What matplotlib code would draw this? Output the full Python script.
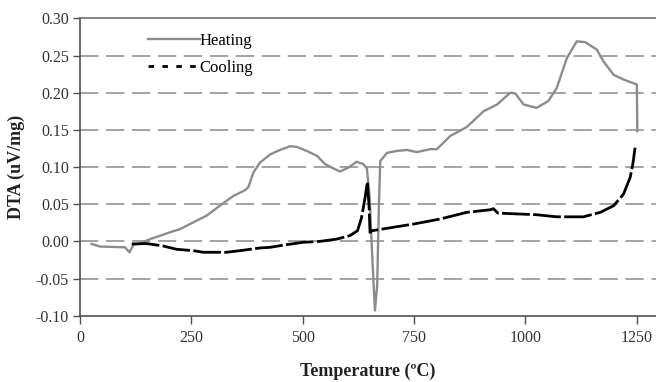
import matplotlib
matplotlib.use("Agg")
import matplotlib.pyplot as plt
from matplotlib.lines import Line2D

# heating run (grey)
heat_t = [26, 45, 101, 111, 120, 135, 157, 180, 206, 225, 254, 284, 314, 344, 371, 378,
          389, 404, 427, 449, 472, 487, 509, 532, 550, 569, 584, 602, 621, 636, 644, 650,
          656, 662, 667, 671, 674, 689, 711, 734, 756, 786, 801, 831, 868, 906, 936, 966,
          977, 996, 1025, 1051, 1070, 1093, 1115, 1134, 1160, 1175, 1198, 1220, 1250, 1251]
heat_v = [-0.0035, -0.007, -0.008, -0.0147, -0.0045, -0.003, 0.003, 0.0076, 0.013, 0.0166,
          0.0255, 0.0345, 0.048, 0.061, 0.069, 0.073, 0.0925, 0.106, 0.117, 0.123, 0.128,
          0.127, 0.1216, 0.115, 0.104, 0.098, 0.094, 0.099, 0.107, 0.104, 0.098, 0.06,
          -0.02, -0.093, -0.06, 0.05, 0.108, 0.119, 0.1216, 0.123, 0.120, 0.124, 0.124,
          0.1417, 0.1537, 0.175, 0.184, 0.2, 0.199, 0.184, 0.1796, 0.1886, 0.206, 0.2466,
          0.269, 0.268, 0.258, 0.242, 0.224, 0.2177, 0.211, 0.148]

# cooling run (black)
cool_t = [116, 150, 187, 217, 254, 277, 329, 366, 404, 427, 464, 501, 539, 576, 606, 623,
          632, 640, 645, 649, 651, 655, 749, 808, 868, 921, 928, 938, 1025, 1070, 1130,
          1168, 1198, 1220, 1235, 1241, 1246]
cool_v = [-0.0035, -0.003, -0.0063, -0.0107, -0.0125, -0.0147, -0.0147, -0.012, -0.0089,
          -0.008, -0.0044, -0.0013, 0.0, 0.003, 0.0077, 0.0143, 0.032, 0.059, 0.08, 0.0456,
          0.012, 0.0143, 0.0233, 0.030, 0.039, 0.0425, 0.044, 0.038, 0.0358, 0.033, 0.033,
          0.039, 0.048, 0.0635, 0.086, 0.104, 0.126]

x_ticks = [0, 250, 500, 750, 1000, 1250]
y_ticks = [-0.10, -0.05, 0.00, 0.05, 0.10, 0.15, 0.20, 0.25, 0.30]

plt.rcParams['font.family'] = ['Liberation Serif', 'DejaVu Serif']

fig = plt.figure(figsize=(6.56, 3.82), dpi=100)
ax = fig.add_axes([0.122, 0.1736, 0.878, 0.7784])

ax.plot(heat_t, heat_v, color='#8c8c8c', lw=1.7, label='Heating', zorder=3)
ax.plot(cool_t, cool_v, color='black', lw=2, linestyle=(0, (10, 1.2)), zorder=4)

ax.set_xlim(0, 1293)
ax.set_ylim(-0.10, 0.30)
ax.set_xticks(x_ticks)
ax.set_yticks(y_ticks)
ax.set_yticklabels(['%.2f' % v for v in y_ticks])

for v in y_ticks[1:-1]:
    ax.axhline(v, color='#8a8a8a', lw=1.1, dashes=(12, 5), zorder=1)

ax.spines['right'].set_visible(False)
ax.spines['top'].set_color('#707070')
ax.spines['left'].set_color('#505050')
ax.spines['bottom'].set_color('#505050')
for s in ['top', 'left', 'bottom']:
    ax.spines[s].set_linewidth(1.2)

ax.tick_params(axis='y', direction='out', length=5, width=1, colors='#505050',
               labelcolor='#333333', labelsize=11.5, pad=3)
ax.tick_params(axis='x', direction='out', length=5.5, width=1, colors='#505050',
               labelcolor='#333333', labelsize=11.5, pad=5)

ax.set_xlabel('Temperature (ºC)', fontsize=13, fontweight='bold', color='#222222', labelpad=12)
ax.set_ylabel('DTA (uV/mg)', fontsize=13, fontweight='bold', color='#222222', labelpad=8)

handles = [Line2D([], [], color='#8c8c8c', lw=1.7),
           Line2D([], [], color='black', lw=2, linestyle=(0, (2, 3)))]
ax.legend(handles, ['Heating', 'Cooling'], loc='upper left', bbox_to_anchor=(0.118, 0.95),
          frameon=False, fontsize=12, handlelength=3.1, handletextpad=0.0,
          labelspacing=0.65, borderpad=0, borderaxespad=0)

fig.savefig('out.png', dpi=100)
